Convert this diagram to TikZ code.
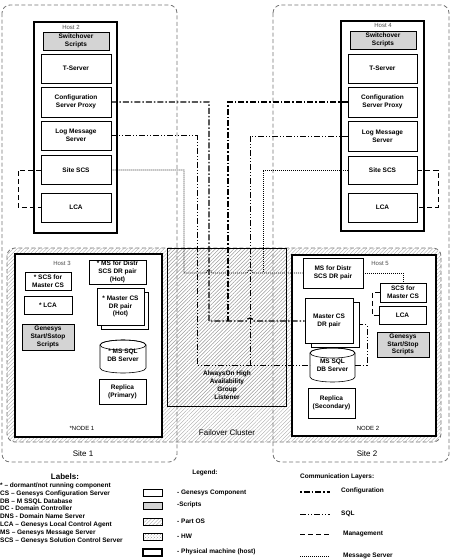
\documentclass[tikz,border=0pt]{standalone}
\usepackage{fontspec}
\setmainfont{Liberation Sans}
\usetikzlibrary{patterns,patterns.meta}
\newcommand\dbcyl[4]{%
  \pgfmathsetmacro\cylcx{(#1+#3)/2}\pgfmathsetmacro\cylrx{(#3-#1)/2}%
  \filldraw[fill=white,line width=0.6pt] (#1,#2+5) -- (#1,#4-5)
    arc[start angle=180,end angle=0,x radius=\cylrx,y radius=5] -- (#3,#2+5)
    arc[start angle=0,end angle=-180,x radius=\cylrx,y radius=5] -- cycle;
  \draw[line width=0.6pt] (\cylcx,#2+5) ellipse[x radius=\cylrx,y radius=5];
}
\tikzset{
  comp/.style={draw, fill=white, line width=0.6pt, inner sep=0pt, align=center,
    font=\bfseries\fontsize{6.5}{7.8}\selectfont},
  scr/.style={comp, fill=black!17, line width=0.9pt},
  plain/.style={inner sep=0pt, align=center, font=\bfseries\fontsize{6.5}{7.8}\selectfont},
  hostbox/.style={draw, fill=white, line width=1.5pt, inner sep=0pt},
  hostlbl/.style={inner sep=0pt, font=\fontsize{6}{7}\selectfont, text=black!70},
  sitebox/.style={draw=black!55, dash pattern=on 4pt off 2.5pt, line width=0.8pt, rounded corners=8pt},
  hatch/.style={pattern={Lines[angle=45,distance=2.6pt,line width=0.35pt]}, pattern color=black!35},
  cfg/.style={line width=1.3pt, dash pattern=on 6pt off 2pt on 1.5pt off 2pt},
  sqlln/.style={line width=0.7pt, dash pattern=on 6pt off 2pt on 1pt off 2pt on 1pt off 2pt},
  mgmt/.style={line width=0.8pt, dash pattern=on 5pt off 3pt},
  msgln/.style={line width=0.8pt, dash pattern=on 1pt off 1pt},
  legbox/.style={draw, line width=0.5pt, minimum width=19pt, minimum height=7pt, inner sep=0pt},
  legtxt/.style={anchor=west, inner sep=0pt, font=\bfseries\fontsize{6.5}{7.8}\selectfont},
  big/.style={inner sep=0pt, font=\fontsize{8}{9.6}\selectfont},
}
\begin{document}
\begin{tikzpicture}[x=1pt,y=-1pt]
\useasboundingbox (0,0) rectangle (450,560);
% cluster region
\draw[sitebox, hatch] (7,248) rectangle (441,442);
% sites
\draw[sitebox] (2,5) rectangle (177,462);
\draw[sitebox] (273,5) rectangle (449,462);
\node[big] (site1) at (83,454) {Site 1};
\node[big] (site2) at (367,454) {Site 2};
% failover box
\node[draw, line width=0.6pt, hatch, minimum width=119pt, minimum height=158pt, inner sep=0pt] (fail) at (226.5,327) {};
\node[plain] (aon) at (227,385) {AlwaysOn High\\Availability\\Group\\Listener};
\node[big] (fc) at (227,433) {Failover Cluster};

% Host 2
\node[hostbox, minimum width=83pt, minimum height=211pt] (host2) at (75.5,127.5) {};
\node[hostlbl] (h2l) at (71,27) {Host 2};
\node[scr, minimum width=66pt, minimum height=18pt] (sw2) at (76,41) {Switchover\\Scripts};
\node[comp, minimum width=70pt, minimum height=29pt] (ts2) at (76,68.5) {T-Server};
\node[comp, minimum width=70pt, minimum height=30pt] (cp2) at (76,102) {Configuration\\Server Proxy};
\node[comp, minimum width=70pt, minimum height=29pt] (lm2) at (76,135.5) {Log Message\\Server};
\node[comp, minimum width=70pt, minimum height=29pt] (ss2) at (76,170) {Site SCS};
\node[comp, minimum width=70pt, minimum height=29pt] (lca2) at (76,207.5) {LCA};

% Host 4
\node[hostbox, minimum width=83pt, minimum height=210pt] (host4) at (382.5,126) {};
\node[hostlbl] (h4l) at (383,25) {Host 4};
\node[scr, minimum width=66pt, minimum height=18pt] (sw4) at (383,40) {Switchover\\Scripts};
\node[comp, minimum width=69pt, minimum height=29pt] (ts4) at (382.5,68.5) {T-Server};
\node[comp, minimum width=69pt, minimum height=30pt] (cp4) at (382.5,102) {Configuration\\Server Proxy};
\node[comp, minimum width=69pt, minimum height=30pt] (lm4) at (382.5,136) {Log Message\\Server};
\node[comp, minimum width=69pt, minimum height=28pt] (ss4) at (382.5,170) {Site SCS};
\node[comp, minimum width=69pt, minimum height=29pt] (lca4) at (382.5,207.5) {LCA};

% Host 3
\node[hostbox, minimum width=147pt, minimum height=183pt] (host3) at (88.5,345.5) {};
\node[hostlbl] (h3l) at (62,263) {Host 3};
\node[comp, minimum width=46pt, minimum height=18pt] (scs3) at (48,281) {* SCS for\\Master CS};
\node[comp, minimum width=48pt, minimum height=18pt] (lca3) at (48,305) {* LCA};
\node[scr, minimum width=52pt, minimum height=26pt] (gs3) at (48,337) {Genesys\\Start/Sstop\\Scripts};
\node[comp, minimum width=57pt, minimum height=24pt] (ms3) at (117.5,272) {* MS for Distr\\SCS DR pair\\(Hot)};
\node[comp, minimum width=47pt, minimum height=37pt] (mcs3b) at (124.5,310.5) {};
\node[comp, minimum width=47pt, minimum height=37pt] (mcs3) at (120.5,306.5) {* Master CS\\DR pair\\(Hot)};
\dbcyl{100}{340}{146}{373}
\node[plain, minimum width=46pt, minimum height=33pt] (db3) at (123,355) {* MS SQL\\DB Server};
\node[comp, minimum width=47pt, minimum height=25pt] (rep3) at (122.5,391.5) {Replica\\(Primary)};
\node[hostlbl, text=black] (n1) at (82,428) {*NODE 1};

% Host 5
\node[hostbox, minimum width=144pt, minimum height=181pt] (host5) at (364,345.5) {};
\node[hostlbl] (h5l) at (380,263) {Host 5};
\node[comp, minimum width=60pt, minimum height=30pt] (ms5) at (333,273) {MS for Distr\\SCS DR pair};
\node[comp, minimum width=46pt, minimum height=19pt] (scs5) at (403,292.5) {SCS for\\Master CS};
\node[comp, minimum width=47pt, minimum height=18pt] (lca5) at (402.5,315) {LCA};
\node[scr, minimum width=52pt, minimum height=25pt] (gs5) at (403,344.5) {Genesys\\Start/Stop\\Scripts};
\node[comp, minimum width=48pt, minimum height=45pt] (mcs5b) at (335,324.5) {};
\node[comp, minimum width=48pt, minimum height=45pt] (mcs5) at (329,321) {Master CS\\DR pair};
\dbcyl{310}{348}{355}{382}
\node[plain, minimum width=45pt, minimum height=34pt] (db5) at (332.5,365) {MS SQL\\DB Server};
\node[comp, minimum width=47pt, minimum height=30pt] (rep5) at (331.5,403) {Replica\\(Secondary)};
\node[hostlbl, text=black] (n2) at (368,428) {NODE 2};

% connectors: configuration
\draw[cfg] (cp2.east) -| (209,321) -- (247,321) arc[start angle=180,end angle=360,radius=3] -- (mcs5.west);
\draw[cfg] (cp4.west) -| (228,321);
% SQL
\draw[sqlln] (lm2.east) -| (197,365) -- (db5.west);
\draw[sqlln] (lm4.west) -| (250,365);
\draw[sqlln] (db5.east) -- (367,365) |- (mcs5b.east);
% message server
\draw[msgln] (ss2.east) -| (184,273) -- (206,273) arc[start angle=180,end angle=360,radius=3]
  -- (247,273) arc[start angle=180,end angle=360,radius=3] -- (ms5.west);
\draw[msgln] (ss4.west) -| (263,273);
\draw[msgln] (ms5.east) -| (scs5.north);
% management
\draw[mgmt] (ss2.west) -- (18,170) |- (lca2.west);
\draw[mgmt] (ss4.east) -- (438,170) |- (lca4.east);
\draw[mgmt] (scs5.west) -- (372,292.5) |- (lca5.west);

% Labels
\node[inner sep=0pt, font=\bfseries\fontsize{8}{9.6}\selectfont] (labt) at (65,477) {Labels:};
\node[anchor=north west, inner sep=0pt, align=left, font=\bfseries\fontsize{6.5}{7.85}\selectfont] (labs) at (0,482.5)
 {* – dormant/not running component\\CS – Genesys Configuration Server\\DB – M SSQL Database\\DC - Domain Controller\\DNS - Domain Name Server\\LCA – Genesys Local Control Agent\\MS – Genesys Message Server\\SCS – Genesys Solution Control Server};

% Legend
\node[inner sep=0pt, font=\bfseries\fontsize{6.5}{7.8}\selectfont] (legt) at (205,473) {Legend:};
\node[legbox, fill=white] (lg1) at (152.5,492.5) {};
\node[legbox, fill=black!17] (lg2) at (152.5,505.5) {};
\node[legbox, hatch] (lg3) at (152.5,522) {};
\node[legbox, pattern=crosshatch dots, pattern color=black!40] (lg4) at (152.5,537) {};
\node[legbox, line width=1.3pt] (lg5) at (152.5,552.5) {};
\node[legtxt] (lt1) at (177,493) {- Genesys Component};
\node[legtxt] (lt2) at (177,505) {-Scripts};
\node[legtxt] (lt3) at (177,521) {- Part OS};
\node[legtxt] (lt4) at (177,536) {- HW};
\node[legtxt] (lt5) at (177,551.5) {- Physical machine (host)};

% Communication layers
\node[legtxt] (clt) at (300,477) {Communication Layers:};
\coordinate (c1a) at (300,492); \coordinate (c1b) at (330,492);
\coordinate (c2a) at (300,514); \coordinate (c2b) at (330,514);
\coordinate (c3a) at (300,534); \coordinate (c3b) at (330,534);
\coordinate (c4a) at (300,556); \coordinate (c4b) at (330,556);
\draw[cfg, dash phase=8pt] (c1a) -- (c1b);
\draw[sqlln] (c2a) -- (c2b);
\draw[mgmt] (c3a) -- (c3b);
\draw[msgln] (c4a) -- (c4b);
\node[legtxt] (cl1) at (341,491) {Configuration};
\node[legtxt] (cl2) at (341,514) {SQL};
\node[legtxt] (cl3) at (343,534) {Management};
\node[legtxt] (cl4) at (343,556) {Message Server};
\end{tikzpicture}
\end{document}
